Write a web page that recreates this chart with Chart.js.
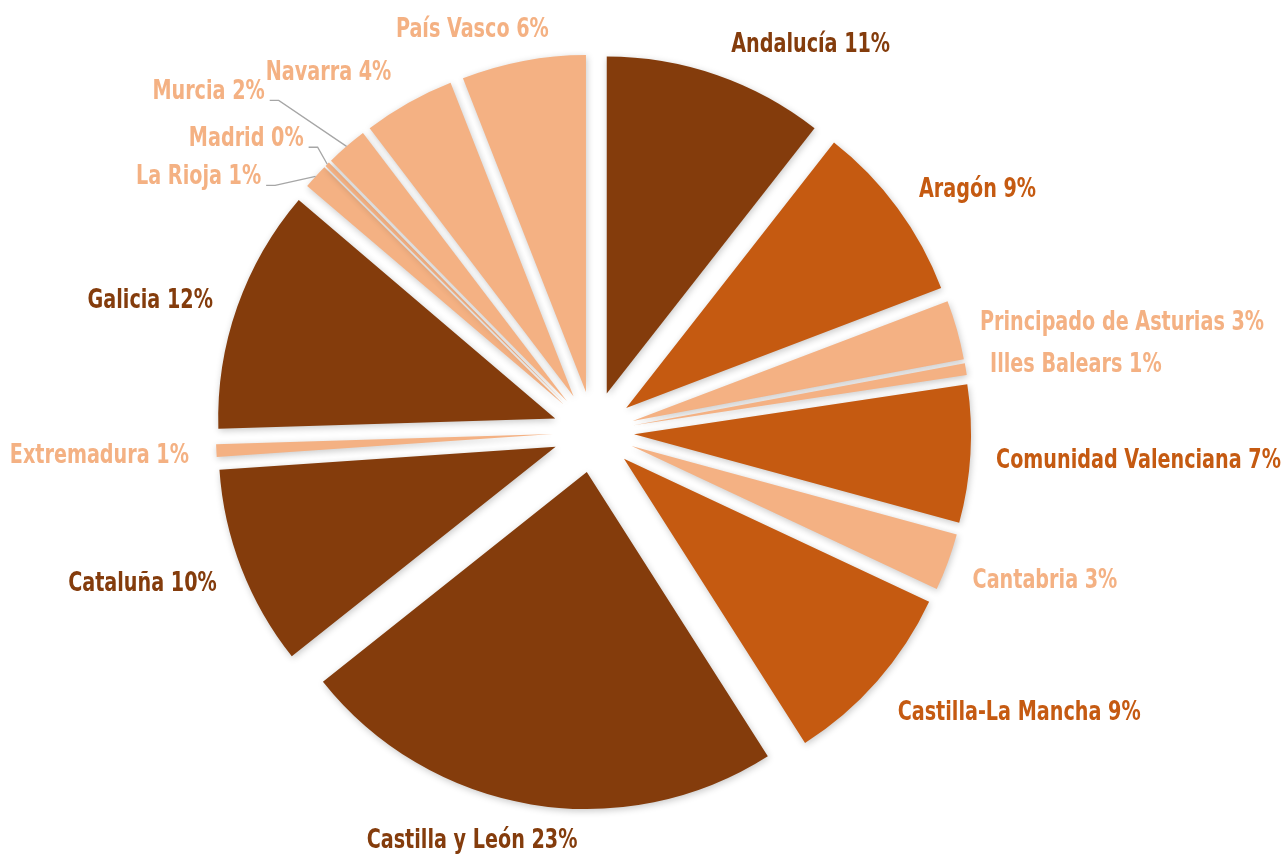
<!DOCTYPE html>
<html>
<head>
<meta charset="utf-8">
<script src="https://cdn.jsdelivr.net/npm/chart.js@4.4.0/dist/chart.umd.min.js"></script>
<style>
html,body{margin:0;padding:0;background:#ffffff;}
#wrap{width:1285px;height:854px;position:relative;}
</style>
</head>
<body>
<div id="wrap"><canvas id="c"></canvas></div>
<script>
// ---- data ----
const categories = ["Andalucía","Aragón","Principado de Asturias","Illes Balears","Comunidad Valenciana","Cantabria","Castilla-La Mancha","Castilla y León","Cataluña","Extremadura","Galicia","La Rioja","Madrid","Murcia","Navarra","País Vasco"];
const values = [10.58, 8.64, 2.85, 0.56, 6.61, 2.75, 9.0, 23.35, 9.6, 0.61, 11.72, 1.2, 0.22, 2.0, 4.4, 5.95];

// ---- styles ----
const DARK = '#843C0C', MID = '#C55A11', LIGHT = '#F4B183';
const sliceColors = [DARK, MID, LIGHT, LIGHT, MID, LIGHT, MID, DARK, DARK, LIGHT, DARK, LIGHT, LIGHT, LIGHT, LIGHT, LIGHT];
const EXPLODE = 40.6;
const RADIUS = 337;
// label placement relative to each slice's outer mid point (text center x, baseline y)
const labelNudges = [[94,-23],[80,-11],[165,0],[110,3],[168,14],[97,26],[142,39],[-59,44],[-99,22],[-117,12],[-87,1],[-117,8],[-81,-18],[-138,-47],[-80,-23],[-51,-24]];
const leaderLines = [false,false,false,false,false,false,false,false,false,false,false,true,true,true,false,false];

function hasFont(name){
  const c = document.createElement('canvas').getContext('2d');
  const s = 'abcdefghijklmWWWiii123';
  c.font = 'bold 40px monospace';
  const a = c.measureText(s).width;
  c.font = 'bold 40px "' + name + '", monospace';
  const b = c.measureText(s).width;
  return Math.abs(a - b) > 0.5;
}
let FONT, SX;
if (hasFont('Liberation Sans Narrow')) { FONT = 'bold 27px "Liberation Sans Narrow"'; SX = 1; }
else if (hasFont('DejaVu Sans Condensed')) { FONT = 'bold 26px "DejaVu Sans Condensed"'; SX = 0.82; }
else { FONT = 'bold 27px "Liberation Sans", Arial, sans-serif'; SX = 0.82; }

const explodePlugin = {
  id: 'explode',
  beforeDatasetDraw(chart, args) {
    const ctx = chart.ctx;
    args.meta.data.forEach(arc => {
      const mid = (arc.startAngle + arc.endAngle) / 2;
      ctx.save();
      ctx.shadowColor = 'rgba(0,0,0,0.22)';
      ctx.shadowBlur = 7;
      ctx.shadowOffsetX = 1;
      ctx.shadowOffsetY = 2;
      ctx.translate(Math.cos(mid) * EXPLODE, Math.sin(mid) * EXPLODE);
      arc.draw(ctx, chart.chartArea);
      ctx.restore();
    });
    return false;
  },
  afterDatasetsDraw(chart) {
    const ctx = chart.ctx;
    const meta = chart.getDatasetMeta(0);
    const total = values.reduce((a, b) => a + b, 0);
    meta.data.forEach((arc, i) => {
      const mid = (arc.startAngle + arc.endAngle) / 2;
      const r = arc.outerRadius + EXPLODE;
      const ax = arc.x + Math.cos(mid) * r, ay = arc.y + Math.sin(mid) * r;
      const x = ax + labelNudges[i][0], y = ay + labelNudges[i][1];
      const text = categories[i] + ' ' + Math.round(values[i] / total * 100) + '%';
      ctx.save();
      ctx.font = FONT;
      ctx.fillStyle = sliceColors[i];
      ctx.textAlign = 'center';
      ctx.textBaseline = 'alphabetic';
      const w = ctx.measureText(text).width * SX;
      ctx.translate(x, y);
      ctx.scale(SX, 1);
      ctx.fillText(text, 0, 0);
      ctx.restore();
      if (leaderLines[i]) {
        ctx.save();
        ctx.strokeStyle = '#A6A6A6';
        ctx.lineWidth = 1.3;
        ctx.beginPath();
        const sx0 = x + w / 2 + 5;
        ctx.moveTo(sx0, y + 1);
        ctx.lineTo(sx0 + 9, y + 1);
        ctx.lineTo(ax, ay);
        ctx.stroke();
        ctx.restore();
      }
    });
  }
};

new Chart(document.getElementById('c'), {
  type: 'pie',
  data: {
    labels: categories,
    datasets: [{
      data: values,
      backgroundColor: sliceColors,
      borderWidth: 0,
      offset: 0,
      hoverOffset: 0,
      radius: RADIUS
    }]
  },
  options: {
    responsive: true,
    maintainAspectRatio: false,
    animation: false,
    radius: RADIUS,
    layout: { padding: { left: 0, right: 98, top: 10, bottom: 0 } },
    plugins: { legend: { display: false }, tooltip: { enabled: false } },
    events: []
  },
  plugins: [explodePlugin]
});
</script>
</body>
</html>
